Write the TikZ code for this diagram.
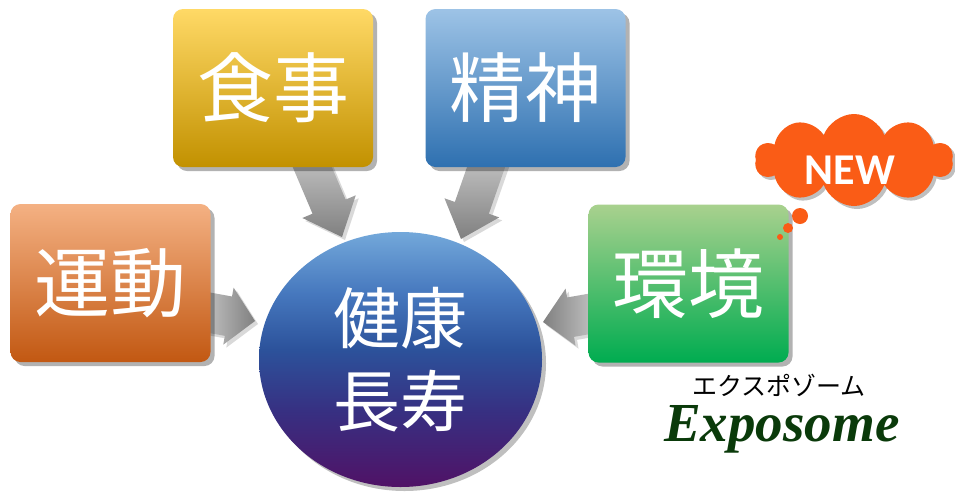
\documentclass[tikz,border=0pt]{standalone}
\usepackage{fontspec}
\usepackage{graphicx}
\usetikzlibrary{calc,shadows,shapes.geometric,shapes.symbols}
\newfontfamily\jp{Noto Sans CJK JP}
\newfontfamily\nwfont{Carlito}
\newfontfamily\exfont{Liberation Serif}
\definecolor{orA}{RGB}{244,177,131}
\definecolor{orB}{RGB}{234,128,52}
\definecolor{orC}{RGB}{194,88,18}
\definecolor{yeA}{RGB}{255,217,102}
\definecolor{yeB}{RGB}{229,180,40}
\definecolor{yeC}{RGB}{194,145,0}
\definecolor{blA}{RGB}{157,195,230}
\definecolor{blB}{RGB}{91,155,213}
\definecolor{blC}{RGB}{46,112,176}
\definecolor{grA}{RGB}{169,209,142}
\definecolor{grB}{RGB}{112,178,71}
\definecolor{grC}{RGB}{0,172,80}
\definecolor{ciA}{RGB}{115,168,218}
\definecolor{ciA2}{RGB}{70,120,190}
\definecolor{ciB}{RGB}{44,82,155}
\definecolor{ciB2}{RGB}{55,48,130}
\definecolor{ciC}{RGB}{80,18,102}
\definecolor{cloudc}{RGB}{250,92,22}
\definecolor{exgreen}{RGB}{10,58,10}
\definecolor{arL}{RGB}{205,205,205}
\definecolor{arD}{RGB}{128,128,128}
\pgfdeclareverticalshading{circshade}{100bp}{color(0bp)=(ciC); color(25bp)=(ciC); color(40bp)=(ciB2); color(52bp)=(ciB); color(63bp)=(ciA2); color(75bp)=(ciA); color(100bp)=(ciA)}
\newcommand\fatarrow[6]{%
  \coordinate (#1-h) at ($(#2)!#5!(#1)$);
  \path[#6] ($(#1)!#3!90:(#2)$) -- ($(#1-h)!#3!90:(#2)$) -- ($(#1-h)!#4!90:(#2)$)
    -- (#2) -- ($(#1-h)!#4!-90:(#2)$) -- ($(#1-h)!#3!-90:(#2)$) -- ($(#1)!#3!-90:(#2)$) -- cycle;
}
\tikzset{
  box/.style={rectangle, rounded corners=10pt, minimum width=200pt, minimum height=158pt,
    inner sep=0pt, text=white, font=\jp\fontsize{76}{80}\selectfont,
    drop shadow={shadow xshift=4pt, shadow yshift=-4pt, opacity=0.3, fill=black}},
  arrowshade/.style={drop shadow={shadow xshift=3pt, shadow yshift=-3pt, opacity=0.15, fill=black}},
}
\begin{document}
\begin{tikzpicture}[x=1pt,y=-1pt]
\useasboundingbox (0,0) rectangle (955,496);
% arrow end points
\coordinate (tU) at (200,311); \coordinate (pU) at (255,321);
\coordinate (tE) at (600,312); \coordinate (pE) at (543,322);
\coordinate (tF) at (305,150); \coordinate (pF) at (342,237);
\coordinate (tM) at (492,150); \coordinate (pM) at (461,239);
\fatarrow{tU}{pU}{20pt}{29pt}{27pt}{arrowshade, left color=arL, right color=arD}
\fatarrow{tE}{pE}{20pt}{29pt}{28pt}{arrowshade, right color=arL, left color=arD}
\fatarrow{tF}{pF}{18pt}{29pt}{33pt}{arrowshade, top color=arL, bottom color=arD}
\fatarrow{tM}{pM}{18pt}{29pt}{33pt}{arrowshade, top color=arL, bottom color=arD}
% boxes
\node[box, top color=orA, middle color=orB, bottom color=orC] (undou) at (110.5,283) {運動};
\node[box, top color=yeA, middle color=yeB, bottom color=yeC] (food) at (273,88) {食事};
\node[box, top color=blA, middle color=blB, bottom color=blC] (mind) at (525.5,88) {精神};
\node[box, top color=grA, middle color=grB, bottom color=grC] (env) at (688.5,283.5) {環境};
% central ellipse
\node[ellipse, minimum width=283pt, minimum height=255pt, inner sep=0pt,
  shading=circshade, text=white, align=center,
  font=\jp\fontsize{67}{83}\selectfont,
  drop shadow={shadow xshift=4pt, shadow yshift=-4pt, opacity=0.25, fill=black}]
  (health) at (400.5,359.5) {健康\\長寿};
% cloud
\node[cloud, cloud puffs=10, cloud puff arc=140, cloud ignores aspect, minimum width=198pt, minimum height=92pt,
  fill=cloudc, inner sep=0pt,
  drop shadow={shadow xshift=3pt, shadow yshift=-3pt, opacity=0.25, fill=black}] (cloud) at (854,160) {};
\node[circle, fill=cloudc, minimum size=16pt, inner sep=0pt] (b1) at (800,216) {};
\node[circle, fill=cloudc, minimum size=10pt, inner sep=0pt] (b2) at (788,228) {};
\node[circle, fill=cloudc, minimum size=6pt, inner sep=0pt] (b3) at (780,237) {};
\node[text=white, font=\nwfont\bfseries\fontsize{44}{48}\selectfont, inner sep=0pt] (new) at (850,170) {NEW};
% labels
\node[text=black, font=\jp\fontsize{25}{28}\selectfont, inner sep=0pt,
  text height=19pt, text depth=1pt] (kata) at (779,386.5) {エクスポゾーム};
\node[text=exgreen, font=\exfont\bfseries\itshape\fontsize{55}{58}\selectfont, inner sep=0pt,
  text height=38pt, text depth=11pt, anchor=base west] (expo) at (664,441) {Exposome};
\end{tikzpicture}
\end{document}
